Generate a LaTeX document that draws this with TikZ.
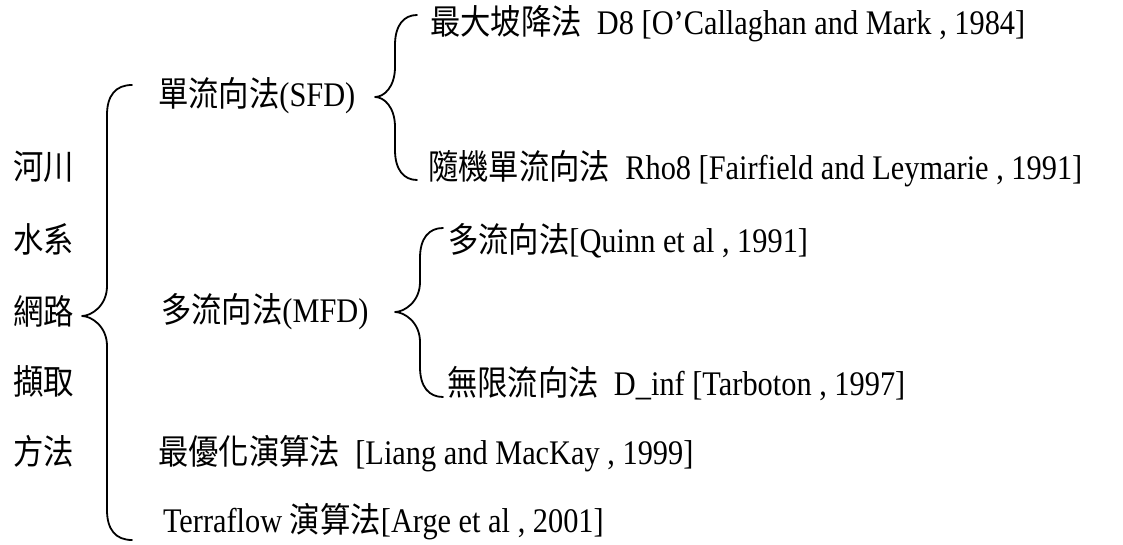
\documentclass[tikz,border=0pt]{standalone}
\usepackage{fontspec}
\setmainfont[FakeStretch=0.88]{Liberation Serif}
\newfontfamily\cjk[FakeStretch=0.88]{Noto Sans CJK TC}
\tikzset{
  lbl/.style={anchor=base west, inner sep=0pt, outer sep=0pt, font=\fontsize{34.5}{40}\selectfont},
  brace/.style={line width=1.8pt, line cap=round, line join=round}
}
\newcommand\mybrace[6]{% xe xv xt yt ym yb
  \draw[brace] (#1,#4) .. controls ({#2+9},#4) and (#2,{#4+10}) .. (#2,{#4+30})
    -- (#2,{#5-30}) .. controls (#2,{#5-10}) and ({#3+9},#5) .. (#3,#5)
    .. controls ({#3+9},#5) and (#2,{#5+10}) .. (#2,{#5+30})
    -- (#2,{#6-30}) .. controls (#2,{#6-10}) and ({#2+9},#6) .. (#1,#6);}
\begin{document}
\begin{tikzpicture}[x=1pt,y=-1pt]
\useasboundingbox (0,0) rectangle (1123,545);
% left column
\node[lbl] (l1) at (13,180) {\cjk 河川};
\node[lbl] (l2) at (13,252) {\cjk 水系};
\node[lbl] (l3) at (13,324) {\cjk 網路};
\node[lbl] (l4) at (13,394) {\cjk 擷取};
\node[lbl] (l5) at (13,464) {\cjk 方法};
% second level
\node[lbl] (sfd) at (158,107) {{\cjk 單流向法}(SFD)};
\node[lbl] (mfd) at (161,322) {{\cjk 多流向法}(MFD)};
\node[lbl] (opt) at (158,464) {{\cjk 最優化演算法}\ \ [Liang and MacKay , 1999]};
\node[lbl] (ter) at (163,532) {Terraflow {\cjk 演算法}[Arge et al , 2001]};
% third level
\node[lbl] (d8) at (430,35) {{\cjk 最大坡降法}\ \ D8 [O’Callaghan and Mark , 1984]};
\node[lbl] (rho) at (428,180) {{\cjk 隨機單流向法}\ \ Rho8 [Fairfield and Leymarie , 1991]};
\node[lbl] (qui) at (448,252) {{\cjk 多流向法}[Quinn et al , 1991]};
\node[lbl] (dinf) at (447,395) {{\cjk 無限流向法}\ \ D\_inf [Tarboton , 1997]};
% braces
\mybrace{132}{107}{82}{85}{316}{540}
\mybrace{417}{395}{375}{15}{97}{180}
\mybrace{443}{420}{395}{228}{312}{397}
\end{tikzpicture}
\end{document}
